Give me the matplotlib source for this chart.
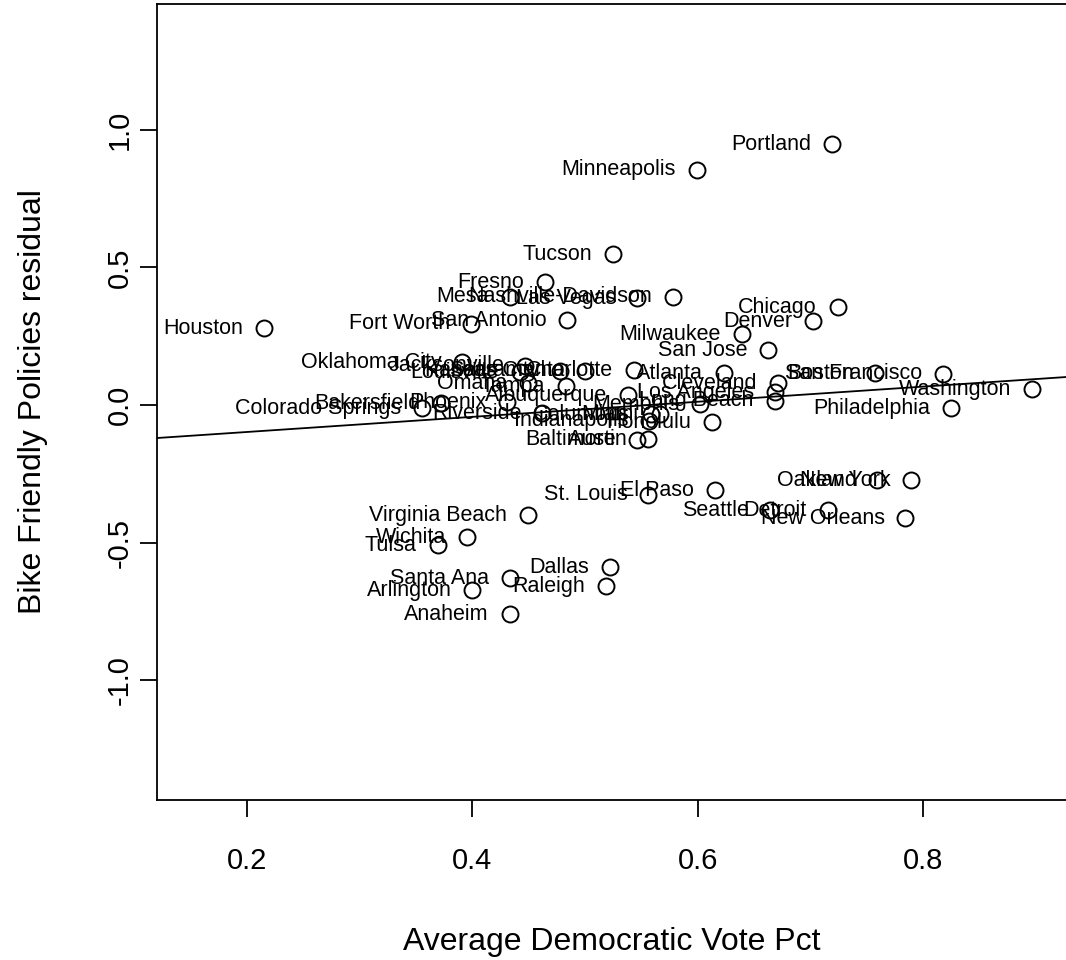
import matplotlib
matplotlib.use("Agg")
import matplotlib.pyplot as plt
import numpy as np

plt.rcParams['font.family'] = ['Liberation Sans', 'DejaVu Sans']

cities = [
    "Portland", "Minneapolis", "Tucson", "Fresno", "Mesa", "Nashville-Davidson",
    "Las Vegas", "San Antonio", "Fort Worth", "Houston", "Chicago", "Denver",
    "Milwaukee", "San Jose", "Oklahoma City", "Jacksonville", "Louisville",
    "Kansas City", "Sacramento", "Charlotte", "Atlanta", "Boston",
    "San Francisco", "Washington", "Philadelphia", "Cleveland", "Los Angeles",
    "Long Beach", "Memphis", "Omaha", "Tampa", "Albuquerque",
    "Colorado Springs", "Bakersfield", "Phoenix", "Riverside", "Columbus",
    "Miami", "Indianapolis", "Honolulu", "Baltimore", "Austin",
    "Oakland", "New York", "New Orleans", "Detroit", "Seattle", "El Paso",
    "St. Louis", "Virginia Beach", "Wichita", "Tulsa", "Dallas",
    "Santa Ana", "Raleigh", "Arlington", "Anaheim",
]

dem_vote = [
    0.719, 0.599, 0.525, 0.464, 0.433, 0.578,
    0.546, 0.484, 0.399, 0.215, 0.724, 0.702,
    0.639, 0.662, 0.391, 0.447, 0.442,
    0.478, 0.500, 0.543, 0.623, 0.757,
    0.817, 0.896, 0.824, 0.671, 0.668,
    0.668, 0.602, 0.449, 0.483, 0.538,
    0.355, 0.372, 0.431, 0.462, 0.558,
    0.566, 0.557, 0.612, 0.546, 0.556,
    0.759, 0.789, 0.784, 0.715, 0.664, 0.615,
    0.556, 0.449, 0.395, 0.369, 0.522,
    0.433, 0.518, 0.400, 0.433,
]

bike_resid = [
    0.949, 0.855, 0.549, 0.447, 0.393, 0.393,
    0.389, 0.309, 0.295, 0.280, 0.356, 0.305,
    0.258, 0.200, 0.156, 0.142, 0.120,
    0.124, 0.124, 0.127, 0.116, 0.116,
    0.113, 0.058, -0.011, 0.080, 0.047,
    0.015, 0.003, 0.080, 0.069, 0.036,
    -0.011, 0.007, 0.011, -0.030, -0.033,
    -0.033, -0.058, -0.062, -0.127, -0.124,
    -0.273, -0.273, -0.411, -0.382, -0.382, -0.309,
    -0.327, -0.400, -0.480, -0.509, -0.589,
    -0.629, -0.658, -0.673, -0.760,
]

# fitted trend line: residual = intercept + slope * vote share
fit_intercept = -0.153
fit_slope = 0.275

x_ticks = [0.2, 0.4, 0.6, 0.8]
y_ticks = [-1.0, -0.5, 0.0, 0.5, 1.0]

fig = plt.figure(figsize=(10.66, 9.6), dpi=100)
ax = fig.add_axes([157 / 1066, 160 / 960, 910 / 1066, 796 / 960])

ax.plot(dem_vote, bike_resid, linestyle='none', marker='o', markersize=11.5,
        markerfacecolor='none', markeredgecolor='black', markeredgewidth=1.4)

for name, xv, yv in zip(cities, dem_vote, bike_resid):
    ax.annotate(name, (xv, yv), xytext=(-15, 0), textcoords='offset points',
                ha='right', va='center', fontsize=15.5, color='black')

ax.set_xlim(0.1202, 0.9273)
ax.set_ylim(-1.436, 1.458)
xs = np.array(ax.get_xlim())
ax.plot(xs, fit_intercept + fit_slope * xs, color='black', linewidth=1.3)

ax.set_xticks(x_ticks)
ax.set_xticklabels([f"{v:.1f}" for v in x_ticks])
ax.set_yticks(y_ticks)
ax.set_yticklabels([f"{v:.1f}" for v in y_ticks], rotation=90, va='center')
ax.tick_params(axis='both', direction='out', length=12, width=1.3,
               labelsize=21)
ax.tick_params(axis='x', pad=22)
ax.tick_params(axis='y', pad=5)
ax.spines['right'].set_visible(False)
for s in ['left', 'bottom', 'top']:
    ax.spines[s].set_linewidth(1.3)

ax.set_xlabel("Average Democratic Vote Pct", fontsize=23, labelpad=37)
ax.set_ylabel("Bike Friendly Policies residual", fontsize=23, labelpad=41)

fig.savefig("out.png", dpi=100)
